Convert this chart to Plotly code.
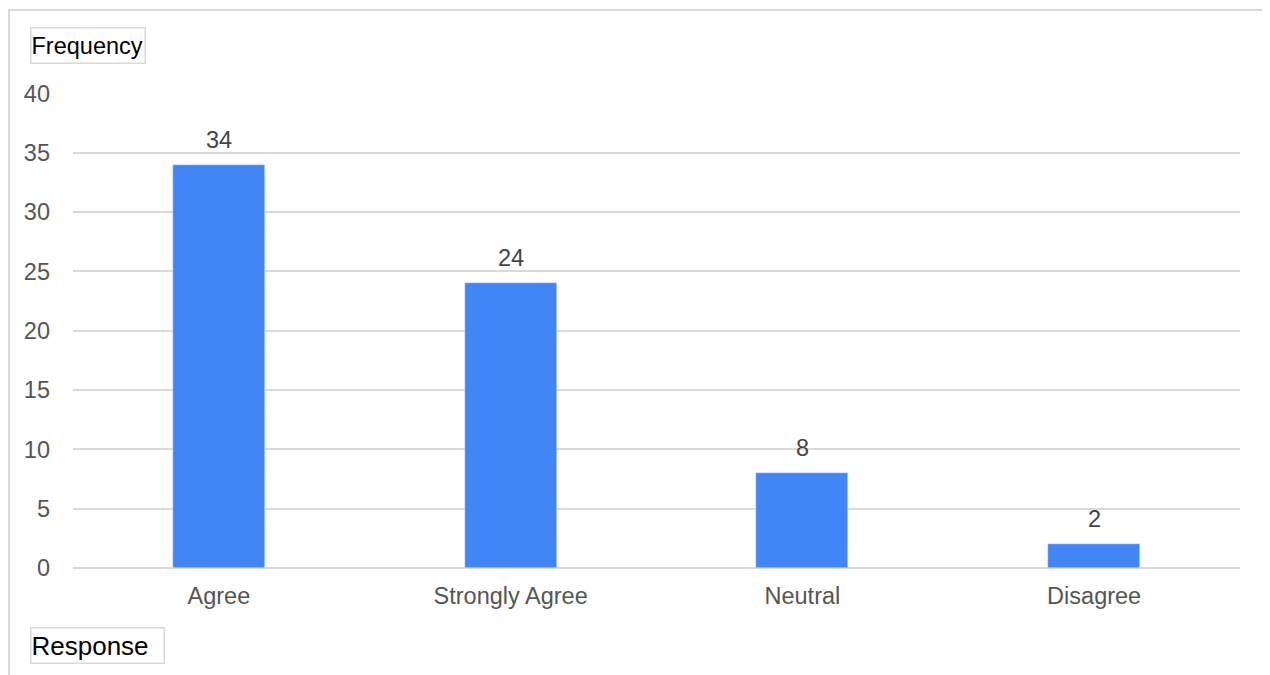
import plotly.graph_objects as go

categories = ["Agree", "Strongly Agree", "Neutral", "Disagree"]
values = [34, 24, 8, 2]
y_title = "Frequency"
x_title = "Response"

# page has an 8px body margin; positions below are in figure pixels
L, R, T, B = 65, 38, 85, 115
W, H = 1270, 675
pw, ph = W - L - R, H - T - B

def px(x):
    return (x - L) / pw

def py(y):
    return (H - B - y) / ph

FONT = "Liberation Sans, Arial"

fig = go.Figure(go.Bar(
    x=categories, y=values, marker_color="#4285f4", width=0.315,
))

value_labels = [
    dict(text=str(v), x=c, y=v, xref="x", yref="y", xanchor="center", yanchor="middle",
         yshift=25, showarrow=False, font=dict(family=FONT, size=23.5, color="#444444"))
    for c, v in zip(categories, values)
]

fig.update_layout(
    width=W, height=H, margin=dict(l=L, r=R, t=T, b=B, autoexpand=False),
    plot_bgcolor="white", paper_bgcolor="white", showlegend=False,
    bargap=0,
    xaxis=dict(showgrid=False, showline=False, ticks="", ticklabelstandoff=11,
               tickfont=dict(family=FONT, size=23.5, color="#555555")),
    yaxis=dict(range=[0, 40.03], tickvals=[0, 5, 10, 15, 20, 25, 30, 35, 40],
               showgrid=True, gridcolor="#d9d9d9", gridwidth=1.5,
               zeroline=True, zerolinecolor="#d9d9d9", zerolinewidth=1.5,
               ticklabelstandoff=22,
               tickfont=dict(family=FONT, size=23.5, color="#555555")),
    shapes=[dict(type="rect", xref="paper", yref="paper",
                 x0=px(1), x1=px(1260), y0=py(700), y1=py(2),
                 line=dict(color="#d9d9d9", width=2), fillcolor="rgba(0,0,0,0)", layer="below")],
    annotations=value_labels + [
        dict(text=y_title, xref="paper", yref="paper", x=px(22), y=py(37), xanchor="left", yanchor="middle",
             showarrow=False, bordercolor="#d9d9d9", borderwidth=1.5, borderpad=0, width=113, height=34,
             align="left", font=dict(family=FONT, size=23.5, color="#000000")),
        dict(text=x_title, xref="paper", yref="paper", x=px(22), y=py(637), xanchor="left", yanchor="middle",
             showarrow=False, bordercolor="#d9d9d9", borderwidth=1.5, borderpad=0, width=132, height=34,
             align="left", font=dict(family=FONT, size=26, color="#000000")),
    ],
)

fig.write_html("out.html")
